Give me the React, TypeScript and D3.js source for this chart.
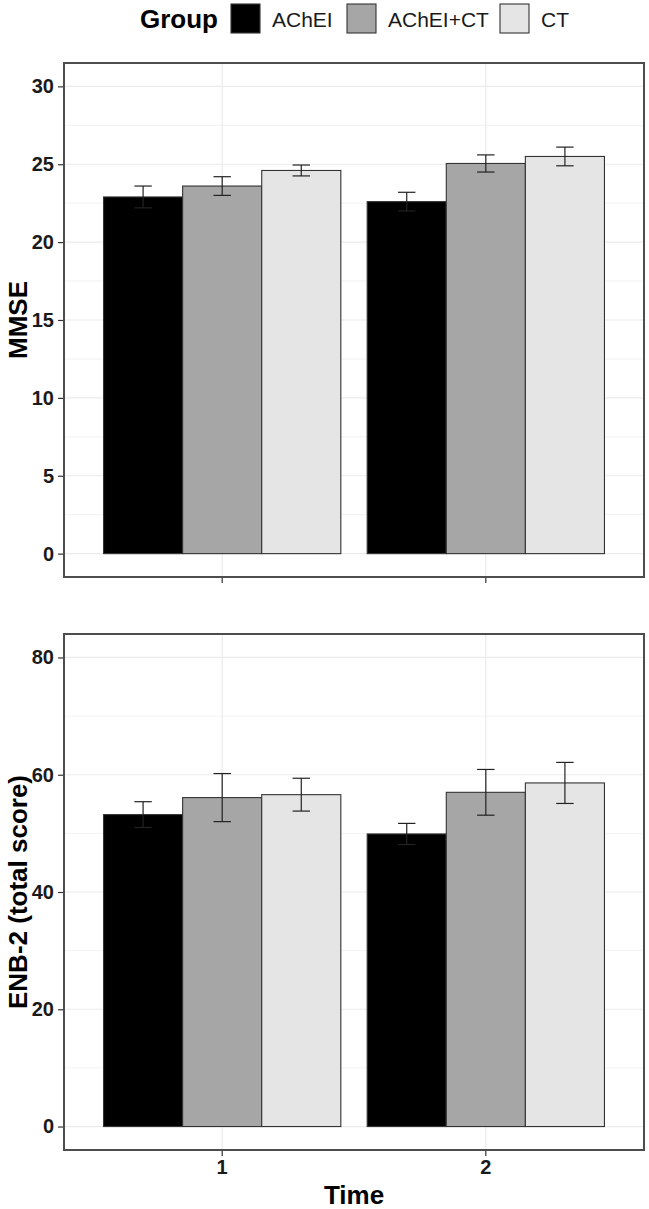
import React, { useEffect, useRef } from 'react';
import * as d3 from 'd3';

const times = ['1', '2'];
const groups = ['AChEI', 'AChEI+CT', 'CT'];
const groupFill = ['#000000', '#a6a6a6', '#e5e5e5'];

// MMSE mean / SE per group, index = time
const mmseAChEI = [22.9, 22.6];
const mmseAChEICT = [23.6, 25.05];
const mmseCT = [24.6, 25.5];
const mmseSeAChEI = [0.7, 0.6];
const mmseSeAChEICT = [0.6, 0.55];
const mmseSeCT = [0.35, 0.6];

// ENB-2 total score
const enbAChEI = [53.2, 49.9];
const enbAChEICT = [56.1, 57.0];
const enbCT = [56.6, 58.6];
const enbSeAChEI = [2.2, 1.8];
const enbSeAChEICT = [4.1, 3.9];
const enbSeCT = [2.8, 3.5];

const mmseTicks = [0, 5, 10, 15, 20, 25, 30];
const enbTicks = [0, 20, 40, 60, 80];

interface Row {
  time: string;
  group: string;
  gi: number;
  mean: number;
  se: number;
}

const buildRows = (means: number[][], ses: number[][]): Row[] => {
  const rows: Row[] = [];
  times.forEach((t, ti) => {
    groups.forEach((g, gi) => {
      rows.push({ time: t, group: g, gi, mean: means[gi][ti], se: ses[gi][ti] });
    });
  });
  return rows;
};

const W = 649;
const H = 1209;
const left = 64;
const right = 644;
const font = '"Liberation Sans", Arial, sans-serif';

const App: React.FC = () => {
  const svgRef = useRef<SVGSVGElement>(null);

  useEffect(() => {
    if (!svgRef.current) return;
    const svg = d3.select(svgRef.current);
    svg.selectAll('*').remove();

    const xOuter = d3.scaleBand().domain(times).range([left, right]).paddingInner(0.1).paddingOuter(0.15);
    const xInner = d3.scaleBand().domain(groups).range([0, xOuter.bandwidth()]);
    const tickX = (t: string) => (xOuter(t) || 0) + xOuter.bandwidth() / 2;

    const drawPanel = (
      rows: Row[],
      top: number,
      bottom: number,
      domain: [number, number],
      ticks: number[],
      title: string,
      showX: boolean
    ) => {
      const y = d3.scaleLinear().domain(domain).range([bottom, top]);
      const g = svg.append('g');
      const step = ticks[1] - ticks[0];
      const minor = ticks.slice(0, -1).map((t) => t + step / 2);

      // grid
      g.selectAll('.minor')
        .data(minor)
        .enter()
        .append('line')
        .attr('x1', left)
        .attr('x2', right)
        .attr('y1', (d) => y(d))
        .attr('y2', (d) => y(d))
        .attr('stroke', '#f2f2f2')
        .attr('stroke-width', 1);
      g.selectAll('.major')
        .data(ticks)
        .enter()
        .append('line')
        .attr('x1', left)
        .attr('x2', right)
        .attr('y1', (d) => y(d))
        .attr('y2', (d) => y(d))
        .attr('stroke', '#ebebeb')
        .attr('stroke-width', 1.2);
      g.selectAll('.vgrid')
        .data(times)
        .enter()
        .append('line')
        .attr('x1', tickX)
        .attr('x2', tickX)
        .attr('y1', top)
        .attr('y2', bottom)
        .attr('stroke', '#ebebeb')
        .attr('stroke-width', 1.2);

      // bars
      g.selectAll('.bar')
        .data(rows)
        .enter()
        .append('rect')
        .attr('x', (d) => (xOuter(d.time) || 0) + (xInner(d.group) || 0))
        .attr('y', (d) => y(d.mean))
        .attr('width', xInner.bandwidth())
        .attr('height', (d) => y(0) - y(d.mean))
        .attr('fill', (d) => groupFill[d.gi])
        .attr('stroke', '#333')
        .attr('stroke-width', 1.1);

      // error bars
      const capW = xInner.bandwidth() * 0.22;
      const cx = (d: Row) => (xOuter(d.time) || 0) + (xInner(d.group) || 0) + xInner.bandwidth() / 2;
      const eb = g.selectAll('.err').data(rows).enter().append('g').attr('stroke', '#222').attr('stroke-width', 1.2);
      eb.append('line')
        .attr('x1', cx)
        .attr('x2', cx)
        .attr('y1', (d) => y(d.mean - d.se))
        .attr('y2', (d) => y(d.mean + d.se));
      eb.append('line')
        .attr('x1', (d) => cx(d) - capW / 2)
        .attr('x2', (d) => cx(d) + capW / 2)
        .attr('y1', (d) => y(d.mean + d.se))
        .attr('y2', (d) => y(d.mean + d.se));
      eb.append('line')
        .attr('x1', (d) => cx(d) - capW / 2)
        .attr('x2', (d) => cx(d) + capW / 2)
        .attr('y1', (d) => y(d.mean - d.se))
        .attr('y2', (d) => y(d.mean - d.se));

      // panel border
      g.append('rect')
        .attr('x', left)
        .attr('y', top)
        .attr('width', right - left)
        .attr('height', bottom - top)
        .attr('fill', 'none')
        .attr('stroke', '#4d4d4d')
        .attr('stroke-width', 2);

      // y axis
      const yAxis = d3.axisLeft(y).tickValues(ticks).tickSize(5).tickPadding(4);
      const ya = g.append('g').attr('transform', `translate(${left - 1},0)`).call(yAxis);
      ya.select('.domain').remove();
      ya.selectAll('line').attr('stroke', '#333').attr('stroke-width', 1.2);
      ya.selectAll('text')
        .attr('font-family', font)
        .attr('font-size', 20)
        .attr('font-weight', 'bold')
        .attr('fill', '#1a1a1a');

      // x axis
      const xAxis = d3.axisBottom(xOuter).tickSize(5).tickPadding(4);
      const xa = g.append('g').attr('transform', `translate(0,${bottom + 1})`).call(xAxis);
      xa.select('.domain').remove();
      xa.selectAll('line').attr('stroke', '#333').attr('stroke-width', 1.2);
      xa.selectAll('text')
        .attr('font-family', font)
        .attr('font-size', 20)
        .attr('font-weight', 'bold')
        .attr('fill', '#1a1a1a')
        .style('display', showX ? null : 'none');

      // y title
      g.append('text')
        .attr('transform', `translate(27,${(top + bottom) / 2}) rotate(-90)`)
        .attr('text-anchor', 'middle')
        .attr('font-family', font)
        .attr('font-size', 26)
        .attr('font-weight', 'bold')
        .attr('fill', '#000')
        .text(title);
    };

    drawPanel(
      buildRows([mmseAChEI, mmseAChEICT, mmseCT], [mmseSeAChEI, mmseSeAChEICT, mmseSeCT]),
      63,
      577,
      [-1.5, 31.5],
      mmseTicks,
      'MMSE',
      false
    );
    drawPanel(
      buildRows([enbAChEI, enbAChEICT, enbCT], [enbSeAChEI, enbSeAChEICT, enbSeCT]),
      634,
      1150,
      [-4, 84],
      enbTicks,
      'ENB-2 (total score)',
      true
    );

    // x title
    svg
      .append('text')
      .attr('x', (left + right) / 2)
      .attr('y', 1204)
      .attr('text-anchor', 'middle')
      .attr('font-family', font)
      .attr('font-size', 26)
      .attr('font-weight', 'bold')
      .text('Time');

    // legend
    const leg = svg.append('g');
    leg
      .append('text')
      .attr('x', 140)
      .attr('y', 27.5)
      .attr('font-family', font)
      .attr('font-size', 26)
      .attr('font-weight', 'bold')
      .text('Group');
    const keyX = [231, 347, 500];
    groups.forEach((gName, i) => {
      leg
        .append('rect')
        .attr('x', keyX[i])
        .attr('y', 4)
        .attr('width', 29)
        .attr('height', 29)
        .attr('fill', groupFill[i])
        .attr('stroke', '#333')
        .attr('stroke-width', 1.1);
      leg
        .append('text')
        .attr('x', keyX[i] + 41)
        .attr('y', 27.3)
        .attr('font-family', font)
        .attr('font-size', 21)
        .attr('fill', '#1a1a1a')
        .text(gName);
    });
  }, []);

  return (
    <div style={{ position: 'absolute', left: 0, top: 0 }}>
      <svg ref={svgRef} width={W} height={H} style={{ display: 'block', background: '#fff' }}></svg>
    </div>
  );
};

export default App;
